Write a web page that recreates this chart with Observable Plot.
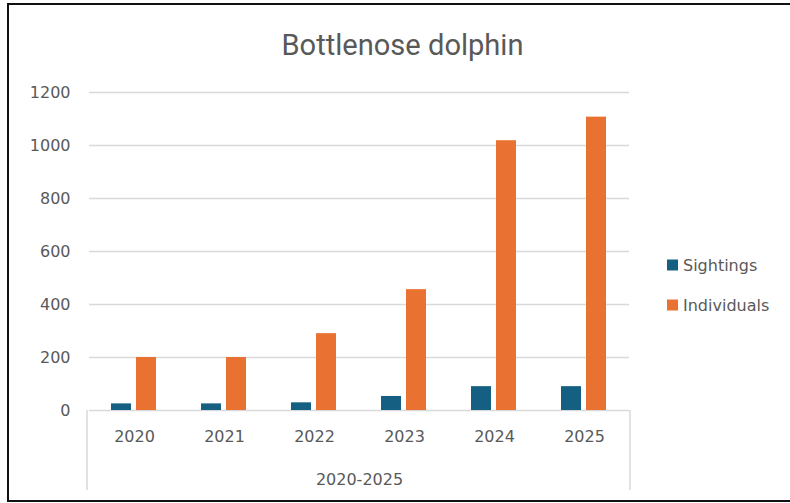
<!DOCTYPE html>
<html>
<head>
<meta charset="utf-8">
<script src="https://cdn.jsdelivr.net/npm/d3@7"></script>
<script src="https://cdn.jsdelivr.net/npm/@observablehq/plot@0.6"></script>
<style>
  body { margin: 0; background: #fff; }
  #wrap { position: relative; width: 790px; height: 503px; overflow: hidden; background: #fff; }
  #chart { position: absolute; left: 0; top: 0; }
  #border { position: absolute; left: 7px; top: 3px; width: 800px; height: 499px; box-sizing: border-box; border: 2px solid #111; pointer-events: none; }
</style>
</head>
<body>
<div id="wrap"><div id="chart"></div><div id="border"></div></div>
<script>
// Bottlenose dolphin records per year
const title = "Bottlenose dolphin";
const periodLabel = "2020-2025";
const years = ["2020", "2021", "2022", "2023", "2024", "2025"];
const seriesNames = ["Sightings", "Individuals"];
const sightings = [25, 25, 29, 53, 90, 90];
const individuals = [200, 200, 290, 456, 1018, 1107];
const seriesColors = ["#156082", "#E97132"];
const yTicks = [0, 200, 400, 600, 800, 1000, 1200];

const rows = years.flatMap((year, i) => [
  {year, series: seriesNames[0], value: sightings[i]},
  {year, series: seriesNames[1], value: individuals[i]}
]);

const textColor = "#595959";
const gridColor = "#d9d9d9";

const chart = Plot.plot({
  width: 790,
  height: 503,
  marginLeft: 87,
  marginRight: 160,
  marginTop: 92,
  marginBottom: 93,
  style: {fontFamily: "DejaVu Sans", fontSize: "16px", color: textColor, background: "transparent", overflow: "visible"},
  fx: {domain: years, padding: 0},
  x: {domain: seriesNames, paddingInner: 0.196, paddingOuter: 0.873, axis: null},
  y: {domain: [0, 1200]},
  color: {domain: seriesNames, range: seriesColors},
  marks: [
    Plot.gridY(yTicks, {stroke: gridColor, strokeOpacity: 1, strokeWidth: 1.3}),
    Plot.barY(rows, {fx: "year", x: "series", y: "value", fill: "series"}),
    Plot.axisY(yTicks, {tickSize: 0, tickPadding: 19, tickFormat: (d) => String(d), label: null, fill: textColor}),
    Plot.axisFx({anchor: "bottom", tickSize: 0, tickPadding: 20, label: periodLabel, labelAnchor: "center", labelOffset: 74, fill: textColor})
  ]
});
document.getElementById("chart").appendChild(chart);

const svg = d3.select(chart);
const fx = chart.scale("fx");
const yScale = chart.scale("y");
const color = chart.scale("color");
const [left, right] = fx.range;
const base = yScale.apply(0);

// Category box sides below the axis
for (const xv of [left, right]) {
  svg.append("line")
    .attr("x1", xv).attr("x2", xv)
    .attr("y1", base).attr("y2", base + 80)
    .attr("stroke", gridColor).attr("stroke-width", 1.5);
}

// Title
svg.append("text")
  .attr("x", (left + right) / 2 + 44)
  .attr("y", 55)
  .attr("text-anchor", "middle")
  .attr("font-family", "Roboto")
  .attr("font-size", 30)
  .attr("fill", textColor)
  .attr("textLength", 242)
  .attr("lengthAdjust", "spacingAndGlyphs")
  .text(title);

// Legend
const legend = svg.append("g")
  .attr("font-family", "DejaVu Sans")
  .attr("font-size", 16)
  .attr("text-anchor", "start")
  .attr("fill", textColor);
seriesNames.forEach((name, i) => {
  const g = legend.append("g").attr("transform", `translate(667,${265 + i * 40})`);
  g.append("rect")
    .attr("x", 0).attr("y", -5.5)
    .attr("width", 11).attr("height", 11)
    .attr("fill", color.apply ? color.apply(name) : seriesColors[i]);
  g.append("text")
    .attr("x", 16)
    .attr("dy", "0.35em")
    .attr("text-anchor", "start")
    .text(name);
});
</script>
</body>
</html>
